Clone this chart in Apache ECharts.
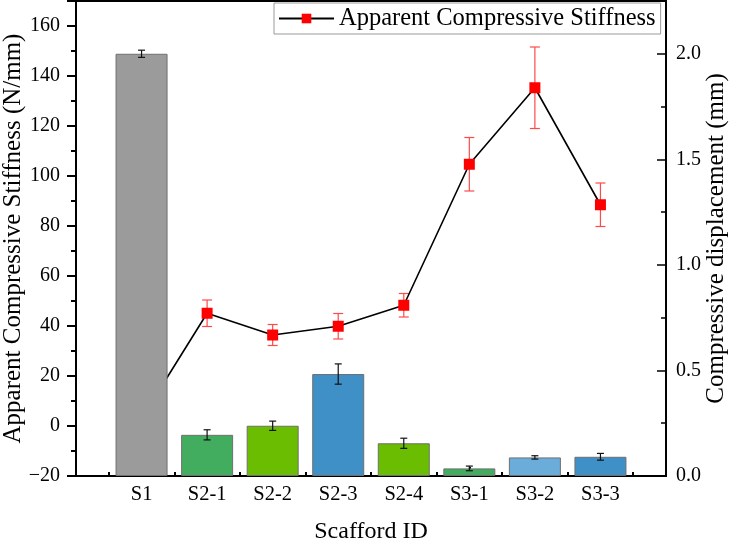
<!DOCTYPE html>
<html>
<head>
<meta charset="utf-8">
<script src="https://cdn.jsdelivr.net/npm/echarts@6/dist/echarts.min.js"></script>
<style>
  html, body { margin: 0; padding: 0; background: #fff; }
  #chart { width: 734px; height: 541px; }
</style>
</head>
<body>
<div id="chart"></div>
<script>
// scaffold names along the x axis
const categories = ["S1", "S2-1", "S2-2", "S2-3", "S2-4", "S3-1", "S3-2", "S3-3"];

// compressive displacement (mm), right axis -> bars
const displacement = [2.0, 0.195, 0.238, 0.483, 0.155, 0.036, 0.088, 0.091];
const displacementErr = [0.017, 0.024, 0.022, 0.048, 0.024, 0.011, 0.008, 0.016];

// apparent compressive stiffness (N/mm), left axis -> line
const stiffness = [3, 45.1, 36.4, 39.9, 48.3, 104.7, 135.3, 88.5];
const stiffnessErr = [2, 5.3, 4.2, 5.1, 4.7, 10.7, 16.3, 8.7];

const barColors = ["#9b9b9b", "#43ad5f", "#6abd00", "#3f90c7", "#6abd00", "#43ad5f", "#6aaddb", "#3f90c7"];

const FONT = "Liberation Serif";

// x positions 1..8, axis runs 0..9
const barData = displacement.map((v, i) => ({
  value: [i + 1, v],
  itemStyle: { color: barColors[i] }
}));
const lineData = stiffness.map((v, i) => [i + 1, v]);
const barErrData = displacement.map((v, i) => [i + 1, v - displacementErr[i], v + displacementErr[i]]);
const lineErrData = stiffness.map((v, i) => [i + 1, v - stiffnessErr[i], v + stiffnessErr[i]]);

function errorRenderer(capHalf, color) {
  return function (params, api) {
    const x = api.value(0);
    const lo = api.coord([x, api.value(1)]);
    const hi = api.coord([x, api.value(2)]);
    const style = { stroke: color, lineWidth: 1.2 };
    return {
      type: "group",
      children: [
        { type: "line", shape: { x1: lo[0], y1: lo[1], x2: hi[0], y2: hi[1] }, style },
        { type: "line", shape: { x1: lo[0] - capHalf, y1: lo[1], x2: lo[0] + capHalf, y2: lo[1] }, style },
        { type: "line", shape: { x1: hi[0] - capHalf, y1: hi[1], x2: hi[0] + capHalf, y2: hi[1] }, style }
      ]
    };
  };
}

// serif tick labels via rich text
function serifLabel(size) {
  return { t: { fontFamily: FONT, fontSize: size, color: "#000" } };
}

const chart = echarts.init(document.getElementById("chart"), null, { renderer: "canvas" });

const option = {
  animation: false,
  backgroundColor: "#fff",
  textStyle: { fontFamily: FONT },
  grid: {
    left: 76, right: 68, top: 1, bottom: 65,
    outerBoundsMode: "none",
    containLabel: false,
    show: true, borderColor: "#000", borderWidth: 2
  },
  legend: {
    data: ["Apparent Compressive Stiffness"],
    left: 274, top: 3,
    padding: [3, 5, 3, 4],
    itemWidth: 55, itemHeight: 12, itemGap: 6,
    borderColor: "#999", borderWidth: 1,
    backgroundColor: "#fff",
    textStyle: { fontFamily: FONT, fontSize: 24.5, color: "#000" }
  },
  xAxis: {
    type: "value",
    min: 0, max: 9, interval: 1,
    name: "Scafford ID",
    nameLocation: "middle",
    nameGap: 44,
    nameMoveOverlap: false,
    nameTextStyle: { fontFamily: FONT, fontSize: 24, color: "#000" },
    axisLine: { onZero: false, lineStyle: { color: "#000", width: 2 } },
    axisTick: { inside: true, length: 9, lineStyle: { color: "#000", width: 2 } },
    minorTick: { show: true, splitNumber: 2, length: 4, lineStyle: { color: "#000", width: 2 } },
    splitLine: { show: false },
    axisLabel: {
      margin: 8,
      fontFamily: FONT, fontSize: 20.5, color: "#000",
      rich: serifLabel(20.5),
      formatter: (v) => categories[v - 1] ? "{t|" + categories[v - 1] + "}" : ""
    }
  },
  yAxis: [
    {
      type: "value",
      min: -20, max: 170, interval: 20,
      name: "Apparent Compressive Stiffness (N/mm)",
      nameLocation: "middle",
      nameGap: 50,
      nameMoveOverlap: false,
      nameTextStyle: { fontFamily: FONT, fontSize: 25, color: "#000" },
      axisLine: { show: true, onZero: false, lineStyle: { color: "#000", width: 2 } },
      axisTick: { show: true, length: 9, lineStyle: { color: "#000", width: 2 } },
      minorTick: { show: true, splitNumber: 2, length: 5, lineStyle: { color: "#000", width: 2 } },
      splitLine: { show: false },
      axisLabel: {
        margin: 16, showMaxLabel: false,
        fontFamily: FONT, fontSize: 20, color: "#000",
        rich: serifLabel(20),
        formatter: (v) => "{t|" + (v < 0 ? "\u2212" + (-v) : v) + "}"
      }
    },
    {
      type: "value",
      position: "right",
      min: 0, max: 2.25, interval: 0.5,
      name: "Compressive displacement (mm)",
      nameLocation: "middle",
      nameGap: 38,
      nameRotate: 90,
      nameMoveOverlap: false,
      nameTextStyle: { fontFamily: FONT, fontSize: 25, color: "#000" },
      axisLine: { show: true, onZero: false, lineStyle: { color: "#000", width: 1.5 } },
      axisTick: { show: true, inside: true, length: 9, lineStyle: { color: "#000", width: 1.5 } },
      minorTick: { show: true, splitNumber: 2, length: 5, lineStyle: { color: "#000", width: 1.5 } },
      splitLine: { show: false },
      axisLabel: {
        margin: 10, showMaxLabel: false,
        fontFamily: FONT, fontSize: 20, color: "#000",
        rich: serifLabel(20),
        formatter: (v) => "{t|" + v.toFixed(1) + "}"
      }
    }
  ],
  series: [
    {
      name: "Apparent Compressive Stiffness",
      type: "line",
      yAxisIndex: 0,
      z: 1,
      data: lineData,
      symbol: "rect",
      symbolSize: 11,
      lineStyle: { color: "#000", width: 1.6 },
      itemStyle: { color: "#ff0000" }
    },
    {
      name: "stiffnessErr",
      type: "custom",
      yAxisIndex: 0,
      z: 1,
      data: lineErrData,
      renderItem: errorRenderer(5, "#ff4a4a")
    },
    {
      name: "Compressive displacement",
      type: "bar",
      yAxisIndex: 1,
      z: 2,
      barWidth: 52,
      data: barData,
      itemStyle: { borderColor: "#6f6f6f", borderWidth: 1 }
    },
    {
      name: "displacementErr",
      type: "custom",
      yAxisIndex: 1,
      z: 3,
      data: barErrData,
      renderItem: errorRenderer(3.5, "#111")
    }
  ]
};

chart.setOption(option);
</script>
</body>
</html>
